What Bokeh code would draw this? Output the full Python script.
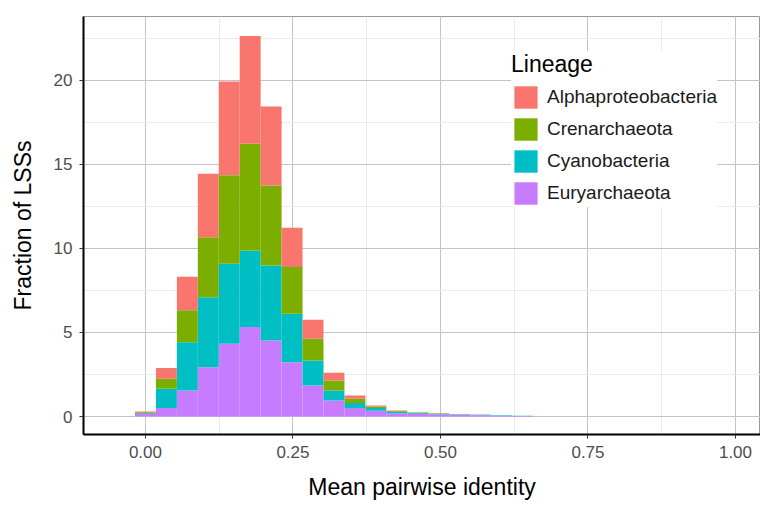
from bokeh.plotting import figure
from bokeh.models import (Legend, LegendItem, FixedTicker, Range1d, NumeralTickFormatter)
from bokeh.embed import file_html
from bokeh.resources import INLINE

# ---- data ----
bin_centers = [0.0, 0.0355, 0.071, 0.1065, 0.142, 0.1775, 0.213, 0.2485, 0.284,
               0.3195, 0.355, 0.3905, 0.426, 0.4615, 0.497, 0.5325, 0.568, 0.6035, 0.639]
bin_width = 0.0355
euryarchaeota = [0.15, 0.50, 1.55, 2.93, 4.33, 5.32, 4.52, 3.23, 1.85, 0.95, 0.50, 0.35, 0.20, 0.16, 0.13, 0.10, 0.08, 0.05, 0.03]
cyanobacteria = [0.05, 1.15, 2.87, 4.17, 4.76, 4.56, 4.47, 2.88, 1.48, 0.60, 0.30, 0.15, 0.08, 0.05, 0.04, 0.03, 0.02, 0.02, 0.01]
crenarchaeota = [0.05, 0.60, 1.90, 3.57, 5.26, 6.35, 4.76, 2.78, 1.29, 0.60, 0.25, 0.10, 0.05, 0.03, 0.02, 0.01, 0.01, 0.01, 0.01]
alphaproteobacteria = [0.05, 0.63, 2.00, 3.78, 5.59, 6.41, 4.70, 2.34, 1.13, 0.46, 0.20, 0.05, 0.03, 0.02, 0.01, 0.01, 0.01, 0.00, 0.00]

lineages = ["Alphaproteobacteria", "Crenarchaeota", "Cyanobacteria", "Euryarchaeota"]
colors = {"Alphaproteobacteria": "#F8766D", "Crenarchaeota": "#7CAE00",
          "Cyanobacteria": "#00BFC4", "Euryarchaeota": "#C77CFF"}

x_ticks = [0.0, 0.25, 0.5, 0.75, 1.0]
y_ticks = [0, 5, 10, 15, 20]

source = dict(x=bin_centers,
              Euryarchaeota=euryarchaeota,
              Cyanobacteria=cyanobacteria,
              Crenarchaeota=crenarchaeota,
              Alphaproteobacteria=alphaproteobacteria)

FONT = "Liberation Sans"

p = figure(width=760, height=506, output_backend="svg", toolbar_location=None,
           x_range=Range1d(-0.105, 1.0424), y_range=Range1d(-1.07, 23.8),
           min_border_left=83, min_border_top=16, min_border_right=0, min_border_bottom=72)

stack_order = ["Euryarchaeota", "Cyanobacteria", "Crenarchaeota", "Alphaproteobacteria"]
renderers = p.vbar_stack(stack_order, x="x", width=bin_width, source=source,
                         color=[colors[s] for s in stack_order], line_color=None)
rmap = dict(zip(stack_order, renderers))

legend = Legend(items=[LegendItem(label=l, renderers=[rmap[l]]) for l in lineages],
                location=(428, 227), title="Lineage",
                title_text_font=FONT, title_text_font_size="23px", title_text_color="#000000",
                title_text_font_style="normal", title_standoff=5,
                label_text_font=FONT, label_text_font_size="19px", label_text_color="#1a1a1a",
                glyph_width=29, glyph_height=28, label_height=28, spacing=4,
                label_standoff=7, padding=9, margin=0,
                background_fill_color="white", background_fill_alpha=1.0,
                border_line_color=None)
p.add_layout(legend)

# axes
p.xaxis.ticker = FixedTicker(ticks=x_ticks, minor_ticks=[-0.125, 0.125, 0.375, 0.625, 0.875])
p.yaxis.ticker = FixedTicker(ticks=y_ticks, minor_ticks=[2.5, 7.5, 12.5, 17.5, 22.5])
p.xaxis.formatter = NumeralTickFormatter(format="0.00")

for ax in (p.xaxis[0], p.yaxis[0]):
    ax.axis_line_color = "black"
    ax.axis_line_width = 2
    ax.major_tick_line_color = "#333333"
    ax.major_tick_out = 4
    ax.major_tick_in = 0
    ax.minor_tick_line_color = None
    ax.major_label_text_font = FONT
    ax.major_label_text_font_size = "17px"
    ax.major_label_text_color = "#4d4d4d"
    ax.axis_label_text_font = FONT
    ax.axis_label_text_font_size = "23px"
    ax.axis_label_text_font_style = "normal"
    ax.axis_label_text_color = "#000000"

p.xaxis.axis_label = "Mean pairwise identity"
p.yaxis.axis_label = "Fraction of LSSs"
p.xaxis.major_label_standoff = 7
p.xaxis.axis_label_standoff = 13
p.yaxis.major_label_standoff = 7
p.yaxis.axis_label_standoff = 15

p.xgrid.grid_line_color = "#c4c4c4"
p.ygrid.grid_line_color = "#c4c4c4"
p.xgrid.minor_grid_line_color = "#ebebeb"
p.ygrid.minor_grid_line_color = "#ebebeb"
p.xgrid.grid_line_width = 1
p.ygrid.grid_line_width = 1

p.outline_line_color = "#999999"
p.outline_line_width = 1
p.background_fill_color = "white"
p.border_fill_color = "white"

open("out.html", "w").write(file_html(p, INLINE))
